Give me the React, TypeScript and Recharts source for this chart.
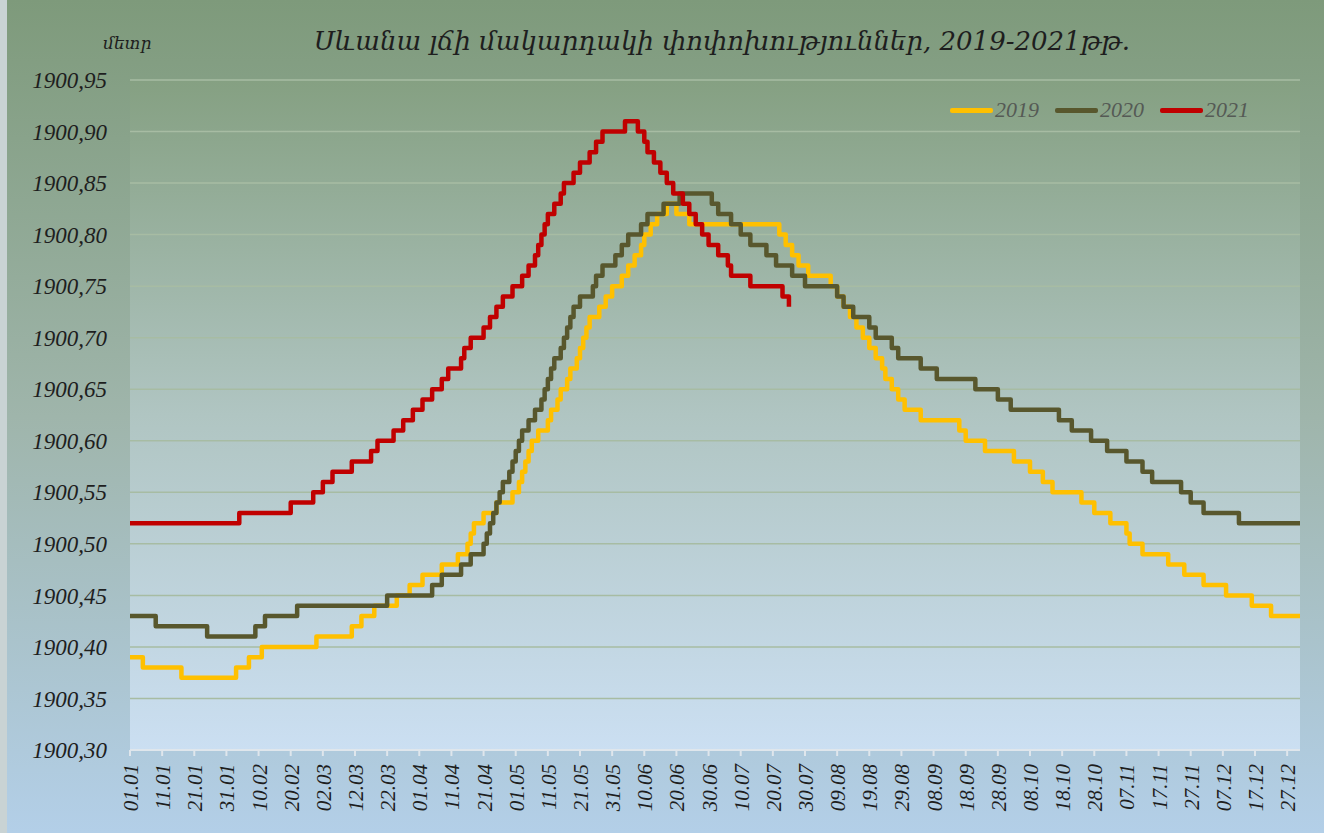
import React from 'react';
import { LineChart, Line, XAxis, YAxis, CartesianGrid } from 'recharts';

const tickLabels = ['01.01','11.01','21.01','31.01','10.02','20.02','02.03','12.03','22.03','01.04','11.04','21.04','01.05','11.05','21.05','31.05','10.06','20.06','30.06','10.07','20.07','30.07','09.08','19.08','29.08','08.09','18.09','28.09','08.10','18.10','28.10','07.11','17.11','27.11','07.12','17.12','27.12'];
const tickDays = [0,10,20,30,40,50,60,70,80,90,100,110,120,130,140,150,160,170,180,190,200,210,220,230,240,250,260,270,280,290,300,310,320,330,340,350,360];
const yTicks = [1900.30,1900.35,1900.40,1900.45,1900.50,1900.55,1900.60,1900.65,1900.70,1900.75,1900.80,1900.85,1900.90,1900.95];

const days2019 = [0,4,16,33,37,41,58,69,72,76,83,87,91,97,102,105,106,107,110,114,119,121,122,123,124,125,127,130,131,133,134,136,137,139,140,141,142,143,146,148,150,153,155,157,159,160,162,164,167,170,174,202,204,206,208,211,218,220,222,224,226,228,230,232,234,235,237,239,241,246,258,260,266,275,280,284,287,296,300,305,310,311,315,323,328,334,341,349,355,364];
const level2019 = [1900.39,1900.38,1900.37,1900.38,1900.39,1900.40,1900.41,1900.42,1900.43,1900.44,1900.45,1900.46,1900.47,1900.48,1900.49,1900.50,1900.51,1900.52,1900.53,1900.54,1900.55,1900.56,1900.57,1900.58,1900.59,1900.60,1900.61,1900.62,1900.63,1900.64,1900.65,1900.66,1900.67,1900.68,1900.69,1900.70,1900.71,1900.72,1900.73,1900.74,1900.75,1900.76,1900.77,1900.78,1900.79,1900.80,1900.81,1900.82,1900.83,1900.82,1900.81,1900.80,1900.79,1900.78,1900.77,1900.76,1900.75,1900.74,1900.73,1900.72,1900.71,1900.70,1900.69,1900.68,1900.67,1900.66,1900.65,1900.64,1900.63,1900.62,1900.61,1900.60,1900.59,1900.58,1900.57,1900.56,1900.55,1900.54,1900.53,1900.52,1900.51,1900.50,1900.49,1900.48,1900.47,1900.46,1900.45,1900.44,1900.43,1900.43];

const days2020 = [0,8,24,39,42,52,80,94,97,103,106,110,111,112,113,114,115,116,118,119,120,121,122,124,126,128,129,130,131,132,134,135,136,137,138,140,144,145,147,151,153,155,159,161,166,171,181,183,187,190,193,198,201,206,210,220,222,225,230,232,237,239,246,251,263,270,274,289,293,299,304,310,315,318,327,330,334,345,364];
const level2020 = [1900.43,1900.42,1900.41,1900.42,1900.43,1900.44,1900.45,1900.46,1900.47,1900.48,1900.49,1900.50,1900.51,1900.52,1900.53,1900.54,1900.55,1900.56,1900.57,1900.58,1900.59,1900.60,1900.61,1900.62,1900.63,1900.64,1900.65,1900.66,1900.67,1900.68,1900.69,1900.70,1900.71,1900.72,1900.73,1900.74,1900.75,1900.76,1900.77,1900.78,1900.79,1900.80,1900.81,1900.82,1900.83,1900.84,1900.83,1900.82,1900.81,1900.80,1900.79,1900.78,1900.77,1900.76,1900.75,1900.74,1900.73,1900.72,1900.71,1900.70,1900.69,1900.68,1900.67,1900.66,1900.65,1900.64,1900.63,1900.62,1900.61,1900.60,1900.59,1900.58,1900.57,1900.56,1900.55,1900.54,1900.53,1900.52,1900.52];

const days2021 = [0,34,50,57,60,63,69,75,77,82,85,88,91,94,97,99,103,104,106,110,112,114,116,119,122,124,126,127,128,129,130,132,134,135,138,140,143,145,147,154,158,160,161,163,165,167,169,172,174,176,178,180,183,186,187,193,203,205];
const level2021 = [1900.52,1900.53,1900.54,1900.55,1900.56,1900.57,1900.58,1900.59,1900.60,1900.61,1900.62,1900.63,1900.64,1900.65,1900.66,1900.67,1900.68,1900.69,1900.70,1900.71,1900.72,1900.73,1900.74,1900.75,1900.76,1900.77,1900.78,1900.79,1900.80,1900.81,1900.82,1900.83,1900.84,1900.85,1900.86,1900.87,1900.88,1900.89,1900.90,1900.91,1900.90,1900.89,1900.88,1900.87,1900.86,1900.85,1900.84,1900.83,1900.82,1900.81,1900.80,1900.79,1900.78,1900.77,1900.76,1900.75,1900.74,1900.73];

const seriesNames = ['2019', '2020', '2021'];
const seriesColors = ['#FFC000', '#58572D', '#C00000'];

const toData = (days: number[], levels: number[]) => days.map((d, i) => ({ day: d, level: levels[i] }));
const data2019 = toData(days2019, level2019);
const data2020 = toData(days2020, level2020);
const data2021 = toData(days2021, level2021);

const serif = '"Liberation Serif", "DejaVu Serif", serif';
const armSerif = '"DejaVu Serif", "Liberation Serif", serif';

const XTick = (props: any) => {
  const { x, y, payload } = props;
  const idx = tickDays.indexOf(payload.value);
  return (
    <text x={x + 8} y={y + 6} transform={`rotate(-90, ${x + 8}, ${y + 6})`} textAnchor="end"
      fontFamily={serif} fontStyle="italic" fontSize={21} fill="#1e1e1e">
      {idx >= 0 ? tickLabels[idx] : ''}
    </text>
  );
};

export default function App() {
  return (
    <div style={{ position: 'absolute', left: 0, top: 0, width: 1324, height: 833, background: 'linear-gradient(to bottom, #7e9a7b 0%, #9fb5ab 50%, #b3cfe8 100%)', overflow: 'hidden' }}>
      <svg width={0} height={0} style={{ position: 'absolute' }}>
        <defs>
          <linearGradient id="plotGrad" x1="0" y1="0" x2="0" y2="1">
            <stop offset="0%" stopColor="#85a082" />
            <stop offset="50%" stopColor="#b0c5c2" />
            <stop offset="100%" stopColor="#cbdff2" />
          </linearGradient>
        </defs>
      </svg>
      <div style={{ position: 'absolute', left: 0, top: 0, width: 7, height: 833, background: '#c9d3d4' }} />
      <div style={{ position: 'absolute', left: 103, top: 33, fontFamily: armSerif, fontStyle: 'italic', fontSize: 17, color: '#1e1e1e' }}>մետր</div>
      <div style={{ position: 'absolute', left: 0, width: 1444, top: 26, textAlign: 'center', fontFamily: armSerif, fontStyle: 'italic', fontSize: 26, color: '#1e1e1e' }}>
        Սևանա լճի մակարդակի փոփոխություններ, 2019-2021թթ.
      </div>
      <LineChart width={1324} height={833} margin={{ top: 80, right: 24, bottom: 6, left: 10 }} style={{ position: 'absolute', left: 0, top: 0 }}>
        <CartesianGrid vertical={false} stroke="#a7bca3" strokeWidth={1.5} fill="url(#plotGrad)" />
        <XAxis dataKey="day" type="number" domain={[0, 364]} ticks={tickDays} interval={0} tick={<XTick />}
          stroke="#dfe6ec" strokeWidth={2} tickSize={6} height={77} allowDataOverflow />
        <YAxis type="number" domain={[1900.30, 1900.95]} ticks={yTicks} interval={0} width={120} axisLine={false} tickLine={false}
          tickMargin={17} tickFormatter={(v: number) => v.toFixed(2).replace('.', ',')}
          tick={{ fontFamily: serif, fontStyle: 'italic', fontSize: 23, fill: '#1e1e1e' }} allowDataOverflow />
        <Line data={data2019} dataKey="level" name="2019" type="stepAfter" stroke={seriesColors[0]} strokeWidth={4.5} strokeLinejoin="round" dot={false} isAnimationActive={false} />
        <Line data={data2020} dataKey="level" name="2020" type="stepAfter" stroke={seriesColors[1]} strokeWidth={4.5} strokeLinejoin="round" dot={false} isAnimationActive={false} />
        <Line data={data2021} dataKey="level" name="2021" type="stepAfter" stroke={seriesColors[2]} strokeWidth={4.5} strokeLinejoin="round" dot={false} isAnimationActive={false} />
      </LineChart>
      <div style={{ position: 'absolute', top: 97, left: 950, display: 'flex', alignItems: 'center', fontFamily: serif, fontStyle: 'italic', fontSize: 22, color: '#555a55' }}>
        {seriesNames.map((n, i) => (
          <div key={n} style={{ display: 'flex', alignItems: 'center', marginRight: 16 }}>
            <div style={{ width: 43, height: 5, background: seriesColors[i], borderRadius: 2, marginRight: 2 }} />
            <span>{n}</span>
          </div>
        ))}
      </div>
    </div>
  );
}
